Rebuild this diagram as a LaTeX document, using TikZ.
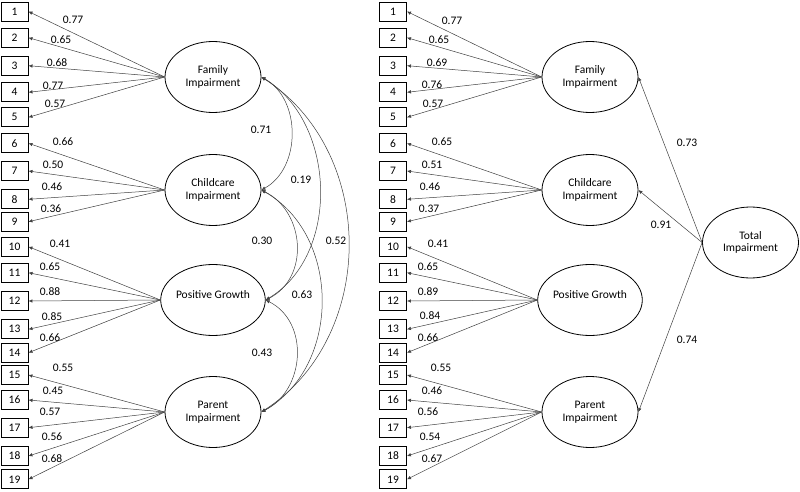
\documentclass[tikz,border=0pt]{standalone}
\usepackage{fontspec}
\setmainfont{Carlito}
\usetikzlibrary{shapes.geometric,arrows.meta}
\begin{document}
\begin{tikzpicture}[x=1pt,y=-1pt,
  font=\fontsize{11.5}{12.5}\selectfont,
  box/.style={draw=black,line width=0.9pt,minimum width=27pt,minimum height=19pt,inner sep=0pt},
  lat/.style={draw=black,line width=0.8pt,ellipse,minimum width=96pt,minimum height=71pt,inner sep=0pt,align=center},
  ld/.style={draw=black!75,line width=0.5pt,-{Latex[length=4pt,width=3.5pt]}},
  cv/.style={draw=black!75,line width=0.5pt,{Latex[length=4pt,width=3.5pt]}-{Latex[length=4pt,width=3.5pt]}},
  lab/.style={inner sep=0pt}]
\useasboundingbox (0,0) rectangle (800,492);
\foreach \i/\y in {1/11.5,2/37.7,3/65.7,4/92.3,5/117.3,6/143.3,7/171,8/199.3,9/221.7,10/246.7,11/272.7,12/301,13/329.3,14/352.7,15/375,16/400,17/427.7,18/456,19/479.3}{
  \node[box] (L\i) at (14.5,\y) {\i};
  \node[box] (R\i) at (393,\y) {\i};
}
% left latent
\node[lat] (FL) at (213,77) {Family\\Impairment};
\node[lat] (CL) at (213,190) {Childcare\\Impairment};
\node[lat] (PL) at (213,300) {Positive Growth\\[-2pt]\phantom{X}};
\node[lat] (RL) at (213,412) {Parent\\Impairment};
% right latent
\node[lat] (FR) at (590,77) {Family\\Impairment};
\node[lat] (CR) at (590,190) {Childcare\\Impairment};
\node[lat] (PR) at (590,300) {Positive Growth\\[-2pt]\phantom{X}};
\node[lat] (RR) at (590,412) {Parent\\Impairment};
\node[lat] (TR) at (750.5,242.5) {Total\\Impairment};
% loadings arrows
\foreach \i in {1,...,5}{\draw[ld] (FL.west) -- (L\i.east); \draw[ld] (FR.west) -- (R\i.east);}
\foreach \i in {6,...,9}{\draw[ld] (CL.west) -- (L\i.east); \draw[ld] (CR.west) -- (R\i.east);}
\foreach \i in {10,...,14}{\draw[ld] (PL.west) -- (L\i.east); \draw[ld] (PR.west) -- (R\i.east);}
\foreach \i in {15,...,19}{\draw[ld] (RL.west) -- (L\i.east); \draw[ld] (RR.west) -- (R\i.east);}
% left loadings labels
\foreach \n/\x/\y/\t in {a1/73/20/0.77,a2/61/40/0.65,a3/57/63/0.68,a4/53/86/0.77,a5/55/104/0.57,
  a6/63/142/0.66,a7/53/165/0.50,a8/52/187/0.46,a9/51/209/0.36,
  a10/60/244/0.41,a11/50/267/0.65,a12/50/292/0.88,a13/52/317/0.85,a14/50/338/0.66,
  a15/63/368/0.55,a16/53/391/0.45,a17/50/412/0.57,a18/52/437/0.56,a19/52/459/0.68}{
  \node[lab] (\n) at (\x,\y) {\t};
}
\foreach \n/\x/\y/\t in {b1/452/21/0.77,b2/439/40/0.65,b3/437/63/0.69,b4/432/85/0.76,b5/433/104/0.57,
  b6/442/142/0.65,b7/432/165/0.51,b8/430/187/0.46,b9/429/209/0.37,
  b10/438/244/0.41,b11/428/267/0.65,b12/428/292/0.89,b13/430/316/0.84,b14/428/338/0.66,
  b15/441/368/0.55,b16/432/391/0.46,b17/428/412/0.56,b18/430/437/0.54,b19/432/459/0.67}{
  \node[lab] (\n) at (\x,\y) {\t};
}
% correlations left
\draw[cv] (FL.east) .. controls +(40,22) and +(40,-22) .. (CL.east);
\draw[cv] (FL.east) .. controls +(75,45) and +(75,-45) .. (PL.east);
\draw[cv] (FL.east) .. controls +(116,75) and +(116,-75) .. (RL.east);
\draw[cv] (CL.east) .. controls +(44,22) and +(44,-22) .. (PL.east);
\draw[cv] (CL.east) .. controls +(80,45) and +(80,-45) .. (RL.east);
\draw[cv] (PL.east) .. controls +(44,22) and +(44,-22) .. (RL.east);
\node[lab] (c1) at (261,130) {0.71};
\node[lab] (c2) at (301,180) {0.19};
\node[lab] (c3) at (262,241) {0.30};
\node[lab] (c4) at (336,241) {0.52};
\node[lab] (c5) at (302,295) {0.63};
\node[lab] (c6) at (262,353) {0.43};
% second order
\draw[ld] (TR.west) -- (FR.east);
\draw[ld] (TR.west) -- (CR.east);
\draw[ld] (TR.west) -- (RR.east);
\node[lab] (s1) at (687,143) {0.73};
\node[lab] (s2) at (661,225) {0.91};
\node[lab] (s3) at (687,340) {0.74};
\end{tikzpicture}
\end{document}
